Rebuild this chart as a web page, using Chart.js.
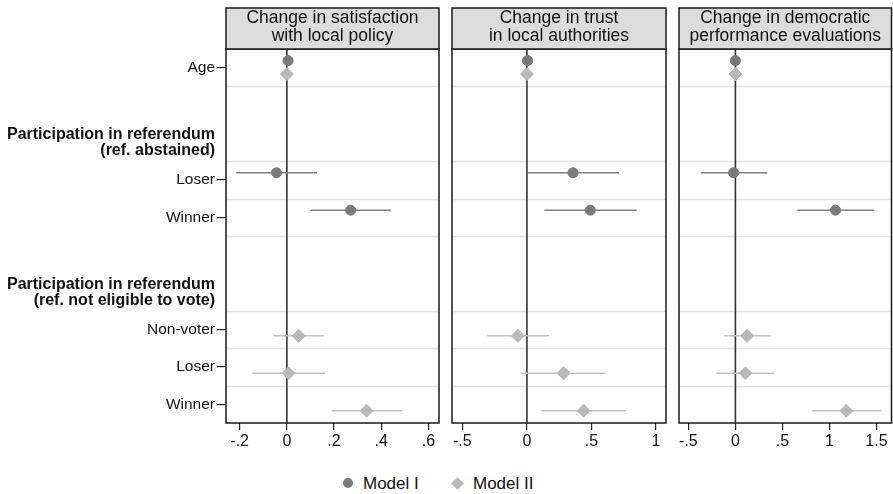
<!DOCTYPE html>
<html>
<head>
<meta charset="utf-8">
<script src="https://cdn.jsdelivr.net/npm/chart.js@4"></script>
<style>
  body { margin: 0; background: #fff; }
  #wrap { position: relative; width: 893px; height: 494px; overflow: hidden; font-family: 'Liberation Sans', Arial, sans-serif; }
  canvas { position: absolute; top: 0; }
  .leg { position: absolute; top: 474px; font-size: 17px; color: #111; line-height: 20px; }
  .dot { position: absolute; width: 10px; height: 10px; border-radius: 50%; background: #7a7a7a; }
  .dia { position: absolute; width: 9px; height: 9px; background: #b8b8b8; transform: rotate(45deg); }
</style>
</head>
<body>
<div id="wrap">
  <canvas id="c1" width="441" height="460" style="left:0px"></canvas>
  <canvas id="c2" width="230" height="460" style="left:440px"></canvas>
  <canvas id="c3" width="223" height="460" style="left:670px"></canvas>
  <span class="dot" style="left:343px;top:478px"></span><span class="leg" style="left:363px">Model I</span>
  <span class="dia" style="left:453px;top:479px"></span><span class="leg" style="left:473px">Model II</span>
</div>
<script>
(function () {
  'use strict';

  // rows from top to bottom
  var rowLabels = ['Age', '', ['Participation in referendum', '(ref. abstained)'], 'Loser', 'Winner', '',
    ['Participation in referendum', '(ref. not eligible to vote)'], 'Non-voter', 'Loser', 'Winner'];
  var headerRows = [2, 6];
  var separators = [0.5, 2.5, 3.5, 4.5, 6.5, 7.5, 8.5];

  var model1Rows = [0, 3, 4];
  var model2Rows = [0, 7, 8, 9];

  var panelTitles = [
    ['Change in satisfaction', 'with local policy'],
    ['Change in trust', 'in local authorities'],
    ['Change in democratic', 'performance evaluations']
  ];

  // satisfaction
  var satM1 = [0.005, -0.044, 0.27];
  var satM1Lo = [0.002, -0.215, 0.10];
  var satM1Hi = [0.008, 0.128, 0.44];
  var satM2 = [0.0, 0.05, 0.007, 0.338];
  var satM2Lo = [-0.003, -0.058, -0.147, 0.188];
  var satM2Hi = [0.003, 0.158, 0.162, 0.489];
  // trust
  var trustM1 = [0.005, 0.357, 0.491];
  var trustM1Lo = [0.0, 0.005, 0.134];
  var trustM1Hi = [0.01, 0.713, 0.85];
  var trustM2 = [0.0, -0.07, 0.284, 0.439];
  var trustM2Lo = [-0.005, -0.307, -0.041, 0.114];
  var trustM2Hi = [0.005, 0.171, 0.61, 0.765];
  // democratic performance
  var demM1 = [0.0, -0.02, 1.064];
  var demM1Lo = [-0.005, -0.369, 0.66];
  var demM1Hi = [0.005, 0.34, 1.475];
  var demM2 = [0.0, 0.124, 0.106, 1.18];
  var demM2Lo = [-0.005, -0.124, -0.202, 0.812];
  var demM2Hi = [0.005, 0.372, 0.415, 1.553];

  var xTicks1 = [-0.2, 0, 0.2, 0.4, 0.6];
  var xTicks2 = [-0.5, 0, 0.5, 1];
  var xTicks3 = [-0.5, 0, 0.5, 1, 1.5];

  var m1Color = '#7a7a7a';
  var m2Color = '#b8b8b8';

  Chart.defaults.font.family = "'Liberation Sans', Arial, sans-serif";
  Chart.defaults.color = '#111';

  function points(rows, est, lo, hi, off) {
    return rows.map(function (r, i) {
      return { x: est[i], y: r + off, lo: lo[i], hi: hi[i] };
    });
  }

  function fmt(v) {
    if (v === 0) return '0';
    return String(v).replace('0.', '.');
  }

  var panelPlugin = {
    id: 'panel',
    beforeDatasetsDraw: function (chart) {
      var ctx = chart.ctx, a = chart.chartArea, x = chart.scales.x, y = chart.scales.y;
      ctx.save();
      ctx.lineWidth = 1.5;
      ctx.strokeStyle = '#e3e3e3';
      separators.forEach(function (r) {
        var py = Math.round(y.getPixelForValue(r)) + 0.5;
        ctx.beginPath(); ctx.moveTo(a.left, py); ctx.lineTo(a.right, py); ctx.stroke();
      });
      var zx = x.getPixelForValue(0);
      ctx.strokeStyle = '#333';
      ctx.lineWidth = 1.6;
      ctx.beginPath(); ctx.moveTo(zx, a.top); ctx.lineTo(zx, a.bottom); ctx.stroke();
      ctx.lineWidth = 1.5;
      chart.data.datasets.forEach(function (ds) {
        ctx.strokeStyle = ds.barColor;
        ds.data.forEach(function (p) {
          var py = y.getPixelForValue(p.y);
          ctx.beginPath();
          ctx.moveTo(x.getPixelForValue(p.lo), py);
          ctx.lineTo(x.getPixelForValue(p.hi), py);
          ctx.stroke();
        });
      });
      ctx.restore();
    },
    afterDraw: function (chart, args, opts) {
      var ctx = chart.ctx, a = chart.chartArea;
      ctx.save();
      ctx.lineWidth = 1.5;
      ctx.strokeStyle = '#1a1a1a';
      ctx.strokeRect(a.left, a.top, a.right - a.left, a.bottom - a.top);
      ctx.fillStyle = '#dcdcdc';
      ctx.fillRect(a.left, 8, a.right - a.left, a.top - 8);
      ctx.strokeRect(a.left, 8, a.right - a.left, a.top - 8);
      ctx.fillStyle = '#111';
      ctx.font = "17.5px 'Liberation Sans', Arial, sans-serif";
      ctx.textAlign = 'center';
      ctx.textBaseline = 'middle';
      var cx = (a.left + a.right) / 2;
      ctx.fillText(opts.title[0], cx, a.top - 31);
      ctx.fillText(opts.title[1], cx, a.top - 13);
      ctx.restore();
    }
  };

  function makeChart(id, title, m1, m2, xMin, xMax, xTicks, padL, padR, showY) {
    return new Chart(document.getElementById(id), {
      type: 'scatter',
      data: {
        datasets: [
          { label: 'Model I', data: m1, pointStyle: 'circle', pointRadius: 5,
            backgroundColor: m1Color, borderColor: m1Color, barColor: '#808080' },
          { label: 'Model II', data: m2, pointStyle: 'rectRot', pointRadius: 6.5,
            backgroundColor: m2Color, borderColor: m2Color, barColor: '#c2c2c2' }
        ]
      },
      options: {
        responsive: false,
        animation: false,
        layout: { autoPadding: false, padding: { top: 49, left: padL, right: padR, bottom: 0 } },
        plugins: {
          legend: { display: false },
          tooltip: { enabled: false },
          panel: { title: title }
        },
        scales: {
          x: {
            type: 'linear', min: xMin, max: xMax,
            afterBuildTicks: function (axis) {
              axis.ticks = xTicks.map(function (v) { return { value: v }; });
            },
            afterFit: function (axis) {
              axis.height = 37;
              axis.paddingLeft = 0;
              axis.paddingRight = 0;
            },
            border: { display: false },
            grid: { drawOnChartArea: false, tickLength: 7, tickColor: '#222', lineWidth: 1.2 },
            ticks: { font: { size: 16 }, padding: 2, maxRotation: 0, callback: fmt }
          },
          y: {
            type: 'linear', reverse: true, min: -0.5, max: 9.5, display: showY,
            afterBuildTicks: function (axis) {
              axis.ticks = [];
              rowLabels.forEach(function (l, i) { if (l !== '') axis.ticks.push({ value: i }); });
            },
            afterFit: function (axis) {
              if (showY) axis.width = 226;
              axis.paddingTop = 0;
              axis.paddingBottom = 0;
            },
            border: { display: false },
            grid: {
              drawOnChartArea: false, tickLength: 9, lineWidth: 1.2,
              tickColor: function (c) {
                return c.tick && headerRows.indexOf(c.tick.value) >= 0 ? 'rgba(0,0,0,0)' : '#222';
              }
            },
            ticks: {
              padding: 2,
              callback: function (v) { return rowLabels[v]; },
              font: function (c) {
                if (c.tick && headerRows.indexOf(c.tick.value) >= 0) {
                  return { size: 16, weight: 'bold', lineHeight: 1.0 };
                }
                return { size: 15.5 };
              }
            }
          }
        }
      },
      plugins: [panelPlugin]
    });
  }

  makeChart('c1', panelTitles[0],
    points(model1Rows, satM1, satM1Lo, satM1Hi, -0.19),
    points(model2Rows, satM2, satM2Lo, satM2Hi, 0.17),
    -0.258, 0.645, xTicks1, 0, 2, true);
  makeChart('c2', panelTitles[1],
    points(model1Rows, trustM1, trustM1Lo, trustM1Hi, -0.19),
    points(model2Rows, trustM2, trustM2Lo, trustM2Hi, 0.17),
    -0.58, 1.077, xTicks2, 12, 4, false);
  makeChart('c3', panelTitles[2],
    points(model1Rows, demM1, demM1Lo, demM1Hi, -0.19),
    points(model2Rows, demM2, demM2Lo, demM2Hi, 0.17),
    -0.6, 1.66, xTicks3, 9, 1.5, false);
})();
</script>
</body>
</html>
